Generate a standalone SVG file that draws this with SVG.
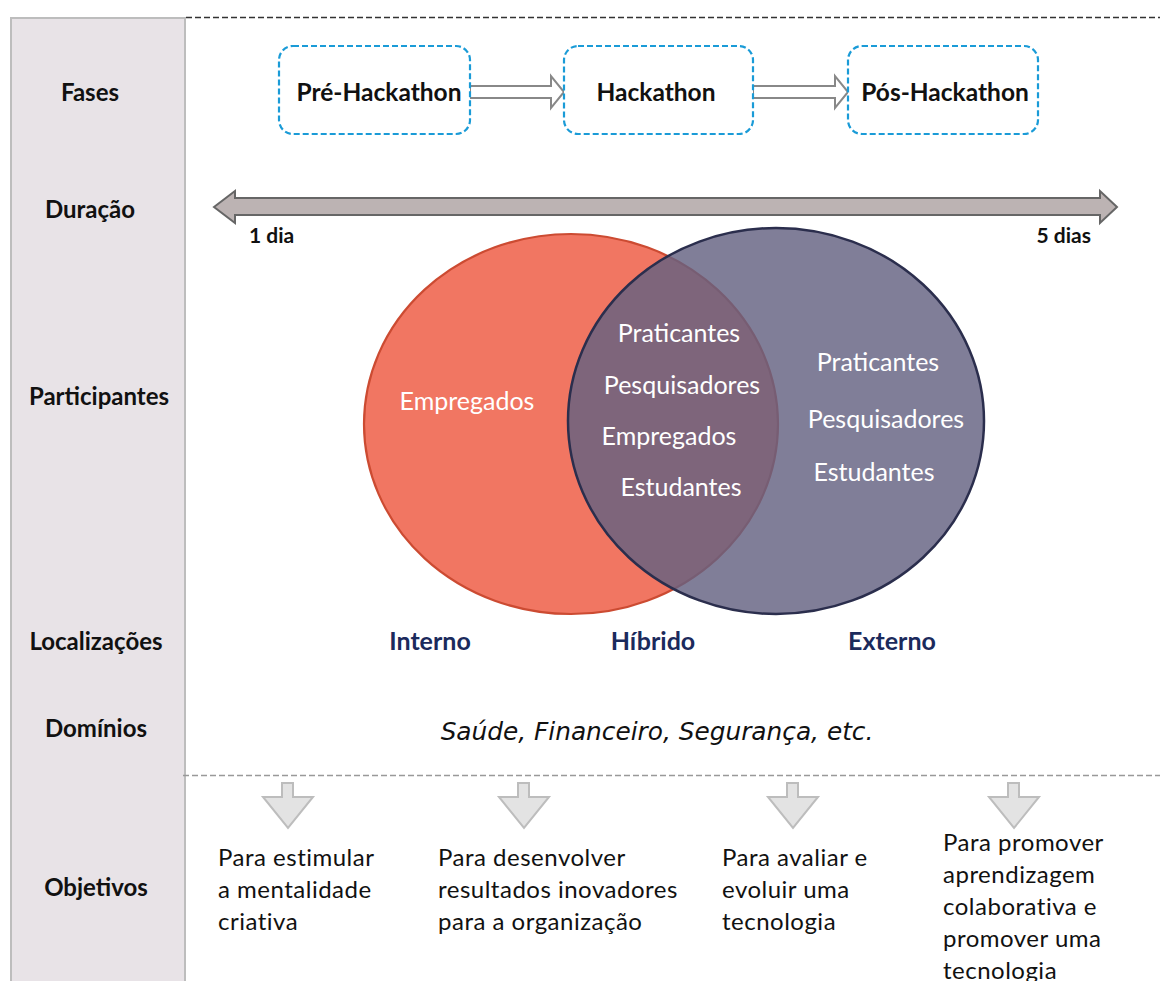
<svg xmlns="http://www.w3.org/2000/svg" width="1160" height="981" viewBox="0 0 1160 981">
<style>
.lab{font-family:Lato,"Liberation Sans",sans-serif;font-weight:bold;font-size:24px;fill:#111;text-anchor:middle}
.ph{font-family:Lato,"Liberation Sans",sans-serif;font-weight:bold;font-size:24.5px;fill:#111;text-anchor:middle}
.box{fill:#fff;stroke:#1a9bd7;stroke-width:2.2;stroke-dasharray:6 3}
.harr{fill:#fff;stroke:#888;stroke-width:2}
.ven{font-family:Lato,"Liberation Sans",sans-serif;font-size:25px;fill:#fff;text-anchor:middle}
.loc{font-family:Lato,"Liberation Sans",sans-serif;font-weight:bold;font-size:25px;fill:#1b2a5c;text-anchor:middle}
.obj{font-family:Lato,"Liberation Sans",sans-serif;font-size:24px;fill:#111;letter-spacing:0.5px}
.dn{fill:#e3e3e3;stroke:#bdbdbd;stroke-width:2}
.day{font-family:Lato,"Liberation Sans",sans-serif;font-weight:bold;font-size:21px;fill:#111}
</style>
<rect width="1160" height="981" fill="#fff"/>
<g id="sidebar">
<rect x="11" y="18" width="174" height="975" fill="#e8e3e7" stroke="#bdbdbd" stroke-width="2"/>
<text class="lab" x="90" y="101">Fases</text>
<text class="lab" x="90" y="218">Duração</text>
<text class="lab" x="99" y="405">Participantes</text>
<text class="lab" x="96" y="650">Localizações</text>
<text class="lab" x="96" y="737">Domínios</text>
<text class="lab" x="96" y="896">Objetivos</text>
</g>
<g id="separators">
<line x1="186" y1="17.5" x2="1160" y2="17.5" stroke="#333" stroke-width="1.6" stroke-dasharray="6 3"/>
<line x1="183" y1="775.5" x2="1160" y2="775.5" stroke="#999" stroke-width="1.6" stroke-dasharray="6 3"/>
</g>
<g id="connectors">
<path class="harr" d="M470,86 H551 V76 L564,92 L551,108 V98 H470 Z"/>
<path class="harr" d="M753,86 H835 V76 L848,92 L835,108 V98 H753 Z"/>
</g>
<g id="pre">
<rect class="box" x="279" y="46" width="191" height="88" rx="14"/>
<text class="ph" x="379" y="101">Pré-Hackathon</text>
</g>
<g id="hack">
<rect class="box" x="564" y="46" width="189" height="88" rx="14"/>
<text class="ph" x="656" y="101">Hackathon</text>
</g>
<g id="pos">
<rect class="box" x="848" y="46" width="190" height="88" rx="14"/>
<text class="ph" x="945" y="101">Pós-Hackathon</text>
</g>
<g id="duration">
<path d="M214,207 L235,191 V198 H1100 V191 L1117,207 L1100,223 V215 H235 V223 Z" fill="#bcb3b3" stroke="#666" stroke-width="2"/>
<text class="day" x="249" y="243">1 dia</text>
<text class="day" x="1091" y="243" text-anchor="end">5 dias</text>
</g>
<g id="venn">
<ellipse cx="571" cy="424" rx="207" ry="190" fill="#f17662" stroke="#cc4b32" stroke-width="2.2"/>
<ellipse cx="776" cy="421" rx="208" ry="193" fill="#646281" fill-opacity="0.82" stroke="#2b2e4d" stroke-width="2.5"/>
<text class="ven" x="467" y="410">Empregados</text>
<text class="ven" x="679" y="342">Praticantes</text>
<text class="ven" x="682" y="394">Pesquisadores</text>
<text class="ven" x="669" y="445">Empregados</text>
<text class="ven" x="681" y="496">Estudantes</text>
<text class="ven" x="878" y="371">Praticantes</text>
<text class="ven" x="886" y="428">Pesquisadores</text>
<text class="ven" x="874" y="481">Estudantes</text>
</g>
<g id="locations">
<text class="loc" x="430" y="650">Interno</text>
<text class="loc" x="653" y="650">Híbrido</text>
<text class="loc" x="892" y="650">Externo</text>
</g>
<g id="domains">
<text x="657" y="740" font-family="'DejaVu Sans',sans-serif" font-style="italic" font-size="24.8" fill="#111" text-anchor="middle">Saúde, Financeiro, Segurança, etc.</text>
</g>
<g id="objectives">
<path class="dn" d="M282,783 H293 V797 H313 L288,828 L263,797 H282 Z"/>
<path class="dn" d="M518,783 H529 V797 H549 L524,828 L499,797 H518 Z"/>
<path class="dn" d="M787,783 H798 V797 H818 L793,828 L768,797 H787 Z"/>
<path class="dn" d="M1008,783 H1019 V797 H1039 L1014,828 L989,797 H1008 Z"/>
<text class="obj" x="218" y="866">Para estimular</text>
<text class="obj" x="218" y="898">a mentalidade</text>
<text class="obj" x="218" y="930">criativa</text>
<text class="obj" x="438" y="866">Para desenvolver</text>
<text class="obj" x="438" y="898">resultados inovadores</text>
<text class="obj" x="438" y="930">para a organização</text>
<text class="obj" x="722" y="866">Para avaliar e</text>
<text class="obj" x="722" y="898">evoluir uma</text>
<text class="obj" x="722" y="930">tecnologia</text>
<text class="obj" x="943" y="851">Para promover</text>
<text class="obj" x="943" y="883">aprendizagem</text>
<text class="obj" x="943" y="915">colaborativa e</text>
<text class="obj" x="943" y="947">promover uma</text>
<text class="obj" x="943" y="979">tecnologia</text>
</g>
</svg>
